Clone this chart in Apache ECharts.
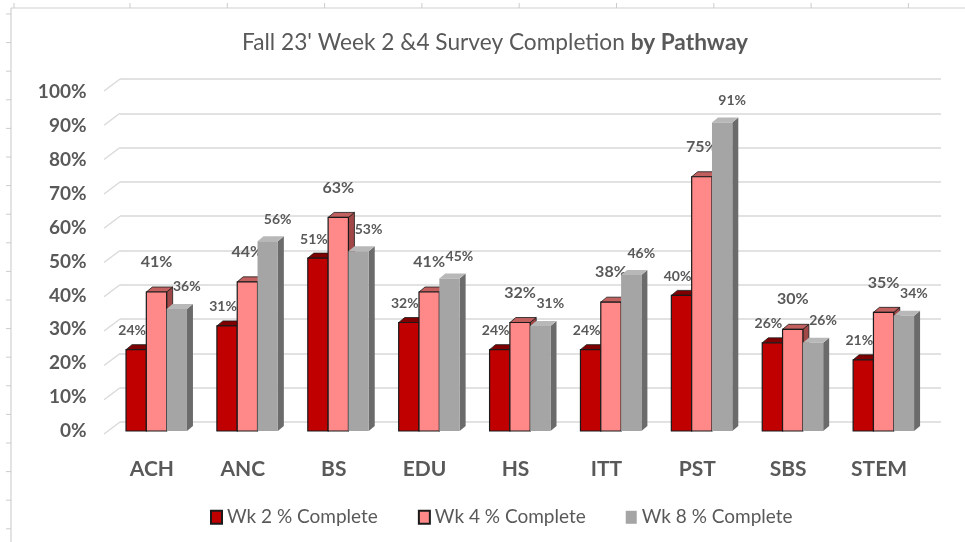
<!DOCTYPE html>
<html style="height: 100%">
    <head>
        <title>Survey Completion by Pathway</title>
        <script type="text/javascript" src="https://fastly.jsdelivr.net/npm/echarts@6/dist/echarts.min.js"></script>
    </head>
    <body style="height: 100%; margin: 0; background: #ffffff">
        <div id="target" style="width: 965px; height: 542px"></div>

<script type="text/javascript">
// chart values (percent)
let pathways = ["ACH", "ANC", "BS", "EDU", "HS", "ITT", "PST", "SBS", "STEM"];
let wk2 = [24, 31, 51, 32, 24, 24, 40, 26, 21];
let wk4 = [41, 44, 63, 41, 32, 38, 75, 30, 35];
let wk8 = [36, 56, 53, 45, 31, 46, 91, 26, 34];
let seriesNames = ["Wk 2 % Complete", "Wk 4 % Complete", "Wk 8 % Complete"];
let yTicks = [0, 10, 20, 30, 40, 50, 60, 70, 80, 90, 100];

let chart = echarts.init(document.getElementById('target'));

const FONT = "Lato";
const TXT = "#595959";
const GRID = "#d9d9d9";

// look of each week's 3d bar
let looks = [
    { front: "#C00000", top: "#7E0000", side: "#5E0000", stroke: "#1a1a1a", lx: -4, ly: -19, fs: 14 },
    { front: "#FF8989", top: "#C26060", side: "#A04848", stroke: "#1a1a1a", lx: 0,  ly: -30, fs: 16 },
    { front: "#A5A5A5", top: "#B8B8B8", side: "#6B6B6B", stroke: null,      lx: 10, ly: -22, fs: 14 },
];

// depth of the 3d effect
const DX = 6, DY = -5;

let MakeBarRenderer = (s) => {
    let lk = looks[s];
    return (params, api) => {
        let ci = api.value(0);
        let v = api.value(1);
        let base = api.coord([ci, 0]);
        let top = api.coord([ci, v]);
        let band = api.size([1, 0])[0];
        let w = band * 0.2235;
        let x = base[0] + band * 0.05 - 1.5 * w + s * w;
        let yb = base[1], yt = top[1];

        let children = [
            {
                type: "polygon",
                shape: { points: [[x + w, yt], [x + w + DX, yt + DY], [x + w + DX, yb + DY], [x + w, yb]] },
                style: { fill: lk.side, stroke: lk.stroke, lineWidth: lk.stroke ? 0.8 : 0 },
            },
            {
                type: "polygon",
                shape: { points: [[x, yt], [x + DX, yt + DY], [x + w + DX, yt + DY], [x + w, yt]] },
                style: { fill: lk.top, stroke: lk.stroke, lineWidth: lk.stroke ? 0.8 : 0 },
            },
            {
                type: "rect",
                shape: { x: x, y: yt, width: w, height: yb - yt },
                style: { fill: lk.front, stroke: lk.stroke, lineWidth: lk.stroke ? 1.2 : 0 },
            },
            {
                type: "text",
                z2: 10,
                style: {
                    x: x + w / 2 + lk.lx,
                    y: yt + lk.ly,
                    text: v + "%",
                    fill: TXT,
                    font: "bold " + lk.fs + "px " + FONT,
                    align: "center",
                    verticalAlign: "middle",
                },
            },
        ];
        return { type: "group", children: children };
    };
};

// diagonal lines joining the axis labels to the back wall grid
let RenderFloorLine = (params, api) => {
    let v = api.value(0);
    let p = api.coord([0, v]);
    let x0 = params.coordSys.x;
    return {
        type: "line",
        shape: { x1: x0 - 16, y1: p[1] + 12, x2: x0, y2: p[1] },
        style: { stroke: GRID, lineWidth: 1.3 },
    };
};

let weekData = [wk2, wk4, wk8];
let barSeries = weekData.map((arr, s) => ({
    type: "custom",
    name: seriesNames[s],
    xAxisIndex: 0,
    yAxisIndex: 0,
    z: 3 + s,
    renderItem: MakeBarRenderer(s),
    itemStyle: {
        color: looks[s].front,
        borderColor: looks[s].stroke || looks[s].front,
        borderWidth: looks[s].stroke ? 1 : 0,
    },
    encode: { x: 0, y: 1 },
    data: arr.map((v, i) => [i, v]),
}));

// decorative frame and ruler ticks of the screenshot
let deco = [
    { type: "line", shape: { x1: 11, y1: 8, x2: 965, y2: 8 }, style: { stroke: "#d0d0d0", lineWidth: 1.2 } },
    { type: "line", shape: { x1: 11, y1: 8, x2: 11, y2: 542 }, style: { stroke: "#d0d0d0", lineWidth: 1.2 } },
];
for (let k = 0; k < 19; ++k)
{
    let y = 14 + k * 28.6;
    deco.push({ type: "line", shape: { x1: 6, y1: y, x2: 11, y2: y }, style: { stroke: "#cccccc", lineWidth: 1 } });
}
deco.push({ type: "line", shape: { x1: 14, y1: 3, x2: 14, y2: 8 }, style: { stroke: "#cccccc", lineWidth: 1 } });
for (let k = 0; k < 9; ++k)
{
    let x = 130 + k * 97.3;
    deco.push({ type: "line", shape: { x1: x, y1: 3, x2: x, y2: 8 }, style: { stroke: "#cccccc", lineWidth: 1 } });
}

let option = {
    backgroundColor: "#ffffff",
    animation: false,
    title: {
        text: "{a|Fall 23' Week 2 &4 Survey Completion }{b|by Pathway}",
        left: 237,
        top: 20,
        textStyle: {
            fontWeight: "normal",
            rich: {
                a: { fontFamily: FONT, fontSize: 22.7, fontWeight: "normal", color: TXT },
                b: { fontFamily: FONT, fontSize: 22.7, fontWeight: "bold", color: TXT },
            },
        },
    },
    legend: {
        left: 205,
        top: 498,
        itemWidth: 11,
        itemHeight: 13,
        itemGap: 40,
        icon: "rect",
        textStyle: { fontFamily: FONT, fontSize: 19, color: TXT },
        data: seriesNames,
    },
    graphic: deco,
    grid: [
        { left: 106.5, right: 40.5, top: 92, bottom: 111 },
        { left: 120, right: 24, top: 79, bottom: 120 },
    ],
    xAxis: [
        {
            gridIndex: 0,
            type: "category",
            data: pathways,
            axisLine: { show: false },
            axisTick: { show: false },
            axisLabel: { margin: 22, fontFamily: FONT, fontWeight: "bold", fontSize: 21, color: TXT },
        },
        {
            gridIndex: 1,
            type: "category",
            data: pathways,
            show: false,
        },
    ],
    yAxis: [
        {
            gridIndex: 0,
            type: "value",
            min: 0,
            max: 100,
            interval: 10,
            axisLine: { show: false },
            axisTick: { show: false },
            splitLine: { show: false },
            axisLabel: {
                formatter: "{value}%",
                margin: 20,
                padding: [9, 0, 0, 0],
                fontFamily: FONT,
                fontWeight: "bold",
                fontSize: 19,
                color: TXT,
            },
        },
        {
            gridIndex: 1,
            type: "value",
            min: 0,
            max: 100,
            interval: 10,
            axisLine: { show: false },
            axisTick: { show: false },
            axisLabel: { show: false },
            splitLine: { lineStyle: { color: GRID, width: 1.5 } },
        },
    ],
    series: [
        {
            type: "custom",
            xAxisIndex: 1,
            yAxisIndex: 1,
            silent: true,
            renderItem: RenderFloorLine,
            encode: { y: 0 },
            data: yTicks.map(v => [v]),
        },
    ].concat(barSeries),
};

chart.setOption(option);
</script>
    </body>
</html>
